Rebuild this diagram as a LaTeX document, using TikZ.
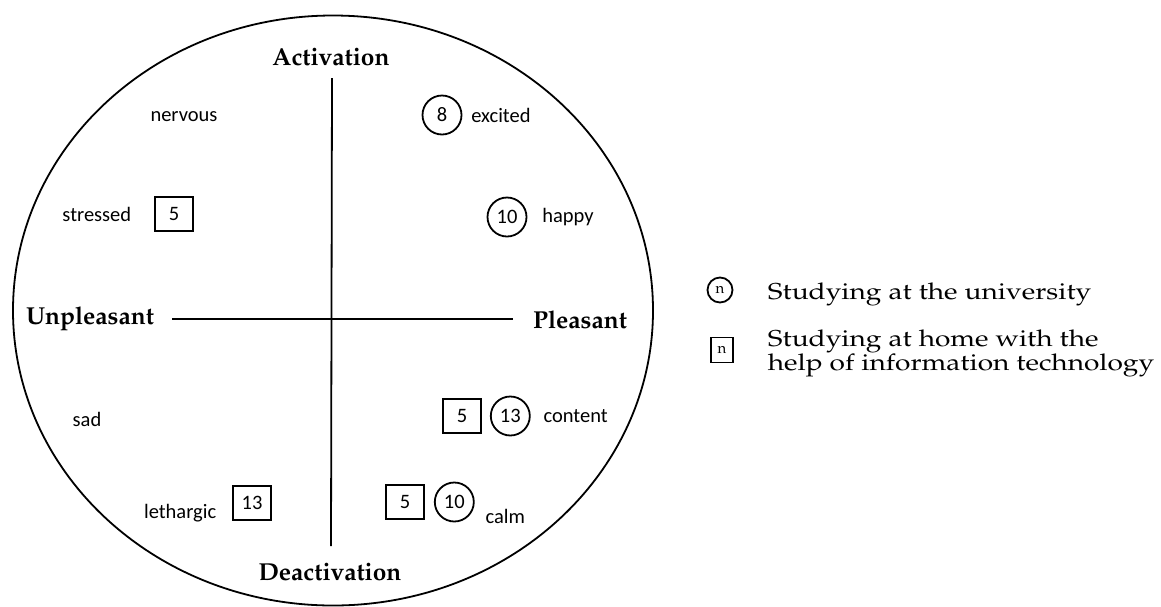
\documentclass[tikz,border=0pt]{standalone}
\usepackage[T1]{fontenc}
\usepackage{fontspec}
\setmainfont{Carlito}
\usetikzlibrary{positioning}

% serif face for the axis names and the key
\newcommand{\pala}{\fontencoding{T1}\fontfamily{ppl}\selectfont}
% the key is set a little wide
\newcommand{\wide}[1]{\scalebox{1.22}[1]{#1}}

\begin{document}
\begin{tikzpicture}[x=1pt, y=-1pt, line width=1.8pt, node distance=8pt]
    \tikzstyle{word} = [inner sep=0pt, font=\fontsize{20.5}{24}\selectfont]
    \tikzstyle{pole} = [inner sep=0pt, font=\pala\bfseries\fontsize{24.5}{28}\selectfont]
    \tikzstyle{uni} = [circle, draw, minimum size=39pt, inner sep=0pt, font=\fontsize{20.5}{24}\selectfont]
    \tikzstyle{home} = [rectangle, draw, minimum width=38pt, minimum height=34pt, inner sep=0pt, font=\fontsize{20.5}{24}\selectfont]
    \tikzstyle{keytext} = [inner sep=0pt, align=left, font=\pala\fontsize{23}{22}\selectfont]

    \useasboundingbox (0,0) rectangle (1161,606);

    % outer ring
    \draw (333,310.5) ellipse [x radius=320pt, y radius=295pt];

    % axes
    \coordinate (vtop) at (332,78);
    \coordinate (vbot) at (331,546);
    \coordinate (hleft) at (172,319);
    \coordinate (hright) at (513,319);
    \draw (vtop) -- (vbot);
    \draw (hleft) -- (hright);

    \node[pole] (act) at (331,57) {Activation};
    \node[pole] (deact) at (330,572) {Deactivation};
    \node[pole] (unpl) at (90,319) {Unpleasant};
    \node[pole] (pl) at (580,320) {Pleasant};

    % upper left
    \node[word] (nervous) at (184,117) {nervous};
    \node[home] (h5a) at (174,214) {5};
    \node[word, left=22pt of h5a] (stressed) {stressed};

    % upper right
    \node[uni] (u8) at (442,115) {8};
    \node[word, right=8pt of u8] (excited) {excited};
    \node[uni] (u10a) at (507,217) {10};
    \node[word, right=14pt of u10a] (happy) {happy};

    % lower left
    \node[word] (sad) at (87,419) {sad};
    \node[home] (h13) at (252,503) {13};
    \node[word, left=15pt of h13, yshift=-10pt] (lethargic) {lethargic};

    % lower right
    \node[home] (h5b) at (462,416) {5};
    \node[uni, right=8pt of h5b] (u13) {13};
    \node[word, right=12pt of u13] (content) {content};
    \node[home] (h5c) at (405,502) {5};
    \node[uni, right=9pt of h5c] (u10b) {10};
    \node[word, right=10pt of u10b, yshift=-14pt] (calm) {calm};

    % key
    \node[uni, minimum size=25pt, font=\pala\fontsize{15}{15}\selectfont] (keyuni) at (720,290) {n};
    \node[keytext, anchor=west] (keyunitext) at (767,294) {\wide{Studying at the university}};
    \node[home, minimum width=22pt, minimum height=25pt, font=\pala\fontsize{15}{15}\selectfont] (keyhome) at (722,350) {n};
    \node[keytext, anchor=west] (keyhometext) at (767,353) {\wide{Studying at home with the}\\\wide{help of information technology}};
\end{tikzpicture}
\end{document}
